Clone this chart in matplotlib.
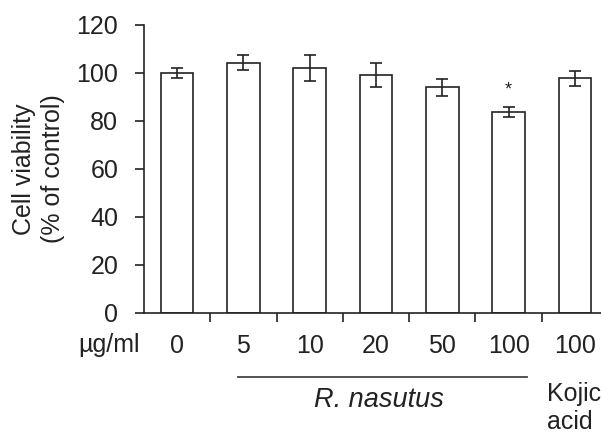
import matplotlib
matplotlib.use("Agg")
import matplotlib.pyplot as plt
import matplotlib.transforms as mtransforms
import numpy as np

plt.rcParams['font.family'] = ['Liberation Sans', 'DejaVu Sans']

categories = ["0", "5", "10", "20", "50", "100", "100"]
values = [100.0, 104.3, 102.1, 99.3, 94.0, 83.8, 97.8]
errors = [2.2, 3.2, 5.3, 5.0, 3.5, 2.2, 3.2]
significant = [False, False, False, False, False, True, False]
yticks = [0, 20, 40, 60, 80, 100, 120]

W, H = 601, 434
fig = plt.figure(figsize=(W / 100, H / 100), dpi=100)
ax_left, ax_right, ax_top, ax_bottom = 144, 608, 25, 313
ax = fig.add_axes([ax_left / W, 1 - ax_bottom / H, (ax_right - ax_left) / W, (ax_bottom - ax_top) / H])

FS = 18
x = np.arange(len(categories))
ink = '#222222'
ax.bar(x, values, width=0.49, color='white', edgecolor=ink, linewidth=1.2, zorder=2)
ax.errorbar(x, values, yerr=errors, fmt='none', ecolor=ink, elinewidth=1.2, capsize=4, capthick=1.2, zorder=3)
for xi, v, e, s in zip(x, values, errors, significant):
    if s:
        ax.text(xi, v + e + 3.5, '*', ha='center', va='bottom', fontsize=13, color=ink)

ax.set_xlim(-0.5, len(categories) - 0.5)
ax.set_ylim(0, 120)
ax.set_yticks(yticks)
ax.set_yticklabels([str(t) for t in yticks], fontsize=FS, color=ink)
ax.set_xticks(x)
ax.set_xticklabels(categories, fontsize=FS, color=ink)
ax.set_xticks(np.arange(0.5, len(categories), 1), minor=True)
ax.tick_params(axis='x', which='major', length=0, pad=15)
ax.tick_params(axis='x', which='minor', length=6.5, width=1.2, color=ink, direction='out')
ax.tick_params(axis='y', length=6.5, width=1.2, color=ink, direction='out', pad=12)
for side in ['top', 'right']:
    ax.spines[side].set_visible(False)
for side in ['left', 'bottom']:
    ax.spines[side].set_linewidth(1.2)
    ax.spines[side].set_color(ink)

ax.set_ylabel('Cell viability\n(% of control)', fontsize=FS, color=ink, linespacing=1.3, labelpad=8)

fig.text(109 / W, 1 - 345 / H, 'µg/ml', fontsize=FS, ha='center', va='center', color=ink)

trans = mtransforms.blended_transform_factory(ax.transData, fig.transFigure)
ax.plot([0.92, 5.28], [1 - 377 / H, 1 - 377 / H], transform=trans, color='#444444', lw=1.3, clip_on=False)
ax.text(3.05, 1 - 400 / H, 'R. nasutus', transform=trans, fontsize=19.5, style='italic', ha='center', va='center', color=ink)
fig.text(547 / W, 1 - 408 / H, 'Kojic\nacid', fontsize=FS, ha='left', va='center', color=ink, linespacing=1.2)

fig.savefig('out.png', dpi=100)
